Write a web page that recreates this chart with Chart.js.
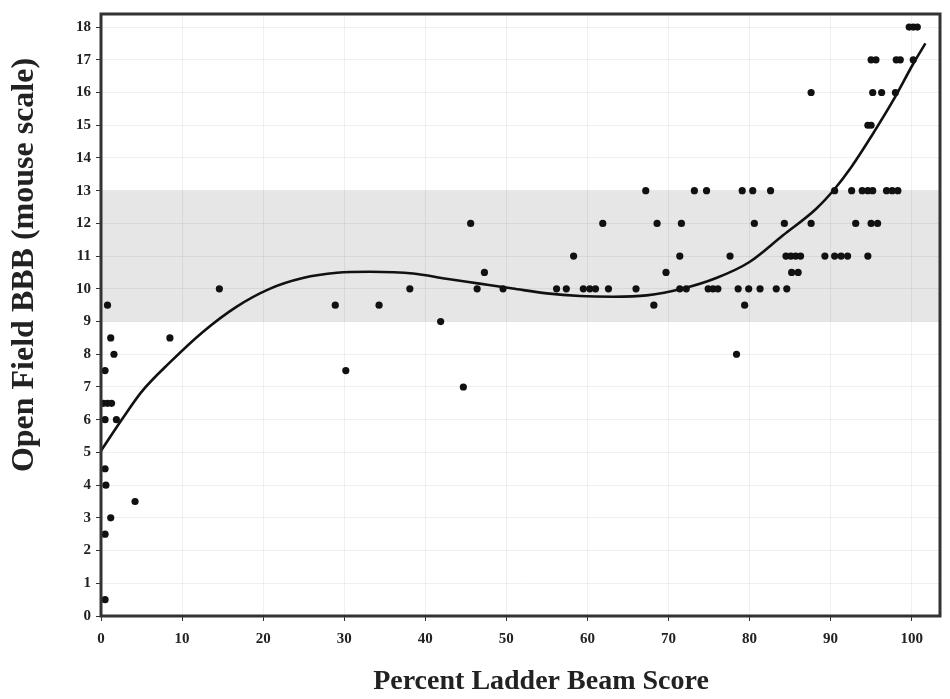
<!DOCTYPE html>
<html>
<head>
<meta charset="utf-8">
<script src="https://cdn.jsdelivr.net/npm/chart.js@4.4.0/dist/chart.umd.min.js"></script>
<style>
  body { margin: 0; background: #fff; }
  canvas { display: block; }
</style>
</head>
<body>
<canvas id="bbbChart" width="950" height="699"></canvas>
<script>
// individual animals: percent ladder beam score vs open field BBB
const ladderScore = [
  0.8, 1.2, 1.6, 0.5, 0.3, 0.8, 1.3, 0.5, 1.9, 0.5, 0.6, 4.2, 1.2, 0.5, 0.5, 8.5,
  14.6, 28.9, 34.3, 30.2, 38.1, 41.9, 44.7, 45.6, 46.4, 47.3, 49.6, 56.2, 57.4, 58.3,
  59.5, 60.3, 61.0, 61.9, 62.6, 66.0, 67.2, 68.2, 68.6,
  73.2, 74.7, 79.1, 80.4, 82.6, 90.5, 92.6, 93.9, 94.6, 95.2, 96.9, 97.6, 98.3,
  71.6, 80.6, 84.3, 87.6, 93.1, 95.0, 95.8,
  71.4, 77.6, 84.5, 85.1, 85.7, 86.3, 89.3, 90.5, 91.3, 92.1, 94.6,
  69.7, 85.2, 86.0,
  71.4, 72.2, 74.9, 75.5, 76.1, 78.6, 79.9, 81.3, 83.3, 84.6,
  79.4, 78.4,
  99.7, 100.2, 100.7,
  95.0, 95.6, 98.1, 98.6, 100.2,
  87.6, 95.2, 96.3, 98.0,
  94.6, 95.0
];
const bbbScore = [
  9.5, 8.5, 8, 7.5, 6.5, 6.5, 6.5, 6, 6, 4.5, 4, 3.5, 3, 2.5, 0.5, 8.5,
  10, 9.5, 9.5, 7.5, 10, 9, 7, 12, 10, 10.5, 10, 10, 10, 11,
  10, 10, 10, 12, 10, 10, 13, 9.5, 12,
  13, 13, 13, 13, 13, 13, 13, 13, 13, 13, 13, 13, 13,
  12, 12, 12, 12, 12, 12, 12,
  11, 11, 11, 11, 11, 11, 11, 11, 11, 11, 11,
  10.5, 10.5, 10.5,
  10, 10, 10, 10, 10, 10, 10, 10, 10, 10,
  9.5, 8,
  18, 18, 18,
  17, 17, 17, 17, 17,
  16, 16, 16, 16,
  15, 15
];

// fitted curve
const fitX = [0, 2.7, 5, 8.5, 12.6, 16.7, 20.8, 24.9, 29.1, 33.2, 38.5, 42.6, 46.7, 50.8,
  55, 59.1, 63.2, 67.3, 71.8, 75.9, 80, 84.1, 88.2, 90.5, 92.5, 95, 97.7, 100.2, 101.7];
const fitY = [5.05, 6.05, 6.85, 7.75, 8.69, 9.45, 10.0, 10.33, 10.49, 10.52, 10.47, 10.31, 10.16, 10.01,
  9.86, 9.78, 9.76, 9.8, 10.01, 10.33, 10.82, 11.63, 12.44, 13.05, 13.7, 14.65, 15.75, 16.88, 17.5];

// normal range band
const bandLow = 9;
const bandHigh = 13;

const xTitle = 'Percent Ladder Beam Score';
const yTitle = 'Open Field BBB (mouse scale)';

const serif = '"Liberation Serif", "DejaVu Serif", serif';

const bandPlugin = {
  id: 'band',
  beforeDraw(chart) {
    const { ctx, chartArea, scales } = chart;
    const top = scales.y.getPixelForValue(bandHigh);
    const bottom = scales.y.getPixelForValue(bandLow);
    ctx.save();
    ctx.fillStyle = '#e6e6e6';
    ctx.fillRect(chartArea.left, top, chartArea.right - chartArea.left, bottom - top);
    ctx.restore();
  }
};

// frame round the plot plus the two axis titles (set a bit off centre, as in the figure)
const framePlugin = {
  id: 'frame',
  afterDraw(chart) {
    const { ctx, chartArea } = chart;
    ctx.save();
    ctx.strokeStyle = '#333';
    ctx.lineWidth = 3;
    ctx.strokeRect(chartArea.left, chartArea.top, chartArea.right - chartArea.left, chartArea.bottom - chartArea.top);

    ctx.fillStyle = '#222';
    ctx.textAlign = 'center';
    ctx.textBaseline = 'middle';
    ctx.font = 'bold 28px ' + serif;
    ctx.fillText(xTitle, 541, 682);

    ctx.translate(25, 265);
    ctx.rotate(-Math.PI / 2);
    ctx.font = 'bold 32px ' + serif;
    ctx.fillText(yTitle, 0, 0);
    ctx.restore();
  }
};

new Chart(document.getElementById('bbbChart'), {
  type: 'scatter',
  data: {
    datasets: [
      {
        label: 'Animals',
        data: ladderScore.map((x, i) => ({ x, y: bbbScore[i] })),
        backgroundColor: '#111',
        borderColor: '#111',
        pointRadius: 3.6,
        borderWidth: 0
      },
      {
        label: 'Fit',
        data: fitX.map((x, i) => ({ x, y: fitY[i] })),
        showLine: true,
        borderColor: '#111',
        borderWidth: 2.6,
        pointRadius: 0,
        cubicInterpolationMode: 'monotone',
        fill: false
      }
    ]
  },
  options: {
    responsive: false,
    devicePixelRatio: 1,
    animation: false,
    layout: { padding: { left: 0, right: 10, top: 10, bottom: 0 } },
    plugins: { legend: { display: false }, tooltip: { enabled: false } },
    scales: {
      x: {
        type: 'linear',
        min: 0,
        max: 103.5,
        afterFit(scale) { scale.height = 83; },
        ticks: { stepSize: 10, includeBounds: false, padding: 9, color: '#222',
          font: { family: serif, size: 15, weight: 'bold' } },
        grid: { color: 'rgba(0,0,0,0.06)', tickColor: '#333', tickLength: 5 },
        border: { display: false }
      },
      y: {
        type: 'linear',
        min: 0,
        max: 18.4,
        afterFit(scale) { scale.width = 101; },
        ticks: { stepSize: 1, includeBounds: false, padding: 5, color: '#222',
          font: { family: serif, size: 15, weight: 'bold' } },
        grid: { color: 'rgba(0,0,0,0.06)', tickColor: '#333', tickLength: 5 },
        border: { display: false }
      }
    }
  },
  plugins: [bandPlugin, framePlugin]
});
</script>
</body>
</html>
